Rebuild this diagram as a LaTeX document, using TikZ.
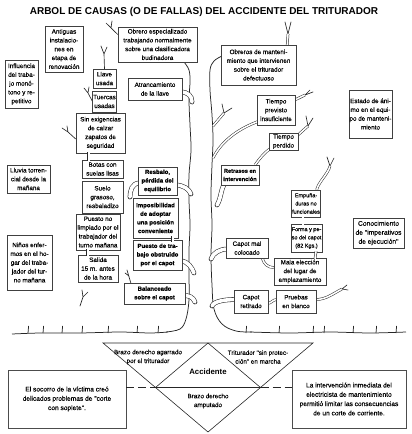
\documentclass[tikz,border=0pt]{standalone}
\usepackage{fontspec}
\setmainfont{Liberation Sans}
\newfontfamily\scanfont[FakeBold=0.25]{Liberation Sans}
\usetikzlibrary{backgrounds,calc}
\newcommand\bxfont{\scanfont\fontsize{6.3}{8.8}\selectfont}
\newcommand\bxbfont{\scanfont\fontsize{6.0}{8.6}\selectfont\bfseries}
\newcommand\bxsfont{\scanfont\fontsize{5.5}{8.2}\selectfont}
\newcommand\bxcfont{\scanfont\fontsize{6.7}{9}\selectfont}
\newcommand\bxlfont{\scanfont\fontsize{6.6}{9.3}\selectfont}
\begin{document}
\begin{tikzpicture}[x=1pt,y=-1pt,
  bx/.style={draw=black!75, line width=0.5pt, fill=white, align=center, inner sep=0.5pt, font=\bxfont, text=black},
  bxb/.style={bx, font=\bxbfont},
  bxs/.style={bx, font=\bxsfont},
  bxc/.style={bx, font=\bxcfont},
  bxl/.style={draw=black!70, line width=0.7pt, fill=white, align=center, inner sep=1pt, font=\bxlfont, text=black},
  tt/.style={align=center, inner sep=0.5pt, font=\bxfont, text=black},
  tube/.style={draw=black!85, double=white, double distance=3.6pt, line width=0.55pt, line cap=round},
  dbl/.style={draw=black!85, double=white, double distance=1.6pt, line width=0.5pt},
  twig/.style={draw=black!85, line width=0.65pt, line cap=round},
  trunk/.style={draw=black!85, line width=0.75pt},
  tri/.style={draw=black!85, line width=0.6pt}]
\useasboundingbox (0,0) rectangle (412,434);

% title
\node[font=\fontsize{10}{12}\selectfont\bfseries, text=black] (ttl) at (204,12) {ARBOL DE CAUSAS (O DE FALLAS) DEL ACCIDENTE DEL TRITURADOR};

% boxes
\node[bx, minimum width=38, minimum height=46] (ant) at (64,49) {Antiguas\\instalacio-\\nes en\\etapa de\\renovación};
\node[bx, minimum width=79, minimum height=35] (obr) at (157.5,44.5) {Obrero especializado\\trabajando normalmente\\sobre una clasificadora\\budinadora};
\node[bx, minimum width=75, minimum height=40] (obm) at (258.5,65) {Obreros de manteni-\\miento que intervienen\\sobre el triturador\\defectuoso};
\node[bx, minimum width=33, minimum height=48] (inf) at (21.5,84) {Influencia\\del traba-\\jo monó-\\tono y re-\\petitivo};
\node[bx, minimum width=23, minimum height=19] (lla) at (104.5,78.5) {Llave\\usada};
\node[bx, minimum width=23, minimum height=21] (tue) at (104.5,101.5) {Tuercas\\usadas};
\node[bx, minimum width=54, minimum height=22] (atr) at (155,89) {Atrancamiento\\de la llave};
\node[bx, minimum width=49, minimum height=40] (sin) at (100.5,133) {Sin exigencias\\de calzar\\zapatos de\\seguridad};
\node[bx, minimum width=43, minimum height=28] (llu) at (28.5,179) {Lluvia torren-\\cial desde la\\mañana};
\node[bx, minimum width=41, minimum height=18] (bot) at (102.5,169) {Botas con\\suelas lisas};
\node[bx, minimum width=41, minimum height=32] (sue) at (102.5,197) {Suelo\\grasoso,\\resbaladizo};
\node[bxb, minimum width=39, minimum height=28] (res) at (157.5,181) {Resbalo,\\pérdida del\\equilibrio};
\node[bxb, minimum width=45, minimum height=40] (imp) at (155.5,218) {Imposibilidad\\de adoptar\\una posición\\conveniente};
\node[bx, minimum width=44, minimum height=36] (pue) at (98,232) {Puesto no\\limpiado por el\\trabajador del\\turno mañana};
\node[bx, minimum width=40, minimum height=27] (sal) at (98,268.5) {Salida\\15 m. antes\\de la hora};
\node[bx, minimum width=45, minimum height=55] (nin) at (29.5,262.5) {Niños enfer-\\mos en el ho-\\gar del traba-\\jador del tur-\\no mañana};
\node[bxb, minimum width=49, minimum height=30] (pdt) at (157.5,255) {Puesto de tra-\\bajo obstruido\\por el capot};
\node[bxb, minimum width=61, minimum height=21] (bal) at (154.5,293.5) {Balanceado\\sobre el capot};
\node[bx, minimum width=38, minimum height=30] (tpi) at (276,110) {Tiempo\\previsto\\insuficiente};
\node[bx, minimum width=29, minimum height=17] (tpe) at (283.5,141.5) {Tiempo\\perdido};
\node[bx, minimum width=43, minimum height=48] (est) at (370.5,114) {Estado de áni-\\mo en el equi-\\po de manteni-\\miento};
\node[bxb, minimum width=38, minimum height=20, font=\scanfont\fontsize{5.6}{8.2}\selectfont\bfseries] (ret) at (240,175) {Retrasos en\\intervención};
\node[bxs, minimum width=28, minimum height=27] (emp) at (306,203.5) {Empuña-\\duras no\\funcionales};
\node[bxs, minimum width=29, minimum height=28] (for) at (306.5,238) {Forma y pe-\\so del capot\\(82 Kgs.)};
\node[bxc, minimum width=51, minimum height=30] (con) at (378.5,233) {Conocimiento\\de "imperativos\\de ejecución"};
\node[bx, minimum width=42, minimum height=20] (cmc) at (247,248) {Capot mal\\colocado};
\node[bx, minimum width=52, minimum height=27] (mal) at (300,271.5) {Mala elección\\del lugar de\\emplazamiento};
\node[bx, minimum width=34, minimum height=23] (cre) at (251,301.5) {Capot\\retirado};
\node[bx, minimum width=40, minimum height=23] (pru) at (296,301.5) {Pruebas\\en blanco};

% small links between stacked boxes
\draw[dbl] ($(sin.south west)+(13,-1)$) -- ($(bot.north west)+(7,1)$);
\draw[dbl] ($(pue.south west)+(12,-1)$) -- ($(sal.north west)+(10,1)$);
\draw[dbl] ($(imp.south west)+(40,-2)$) -- ($(pdt.north west)+(40,2)$);
\draw[dbl] ($(emp.south)+(-3,-1)$) -- ($(for.north)+(-3.5,1)$);
\draw[dbl] ($(for.south east)+(-6,-1)$) -- ($(mal.north)+(15,1)$);

% tree in the background
\begin{pgfonlayer}{background}
\coordinate (tA) at (192,102);
\coordinate (tR) at (191,194);
\coordinate (tP) at (194,273);
\coordinate (tB) at (195,302);
\coordinate (tS) at (130,197);
\coordinate (tRt) at (217,205);
\coordinate (tC) at (211,259);
\coordinate (tCr) at (212,306);
\coordinate (tT) at (213,158);
\coordinate (tW) at (224,113);
\coordinate (eT) at (330,166);
\coordinate (pT) at (342,289);
\coordinate (oT) at (288,34);
\coordinate (iT) at (305,95);
\coordinate (pe) at (308,126);

% trunk
\draw[trunk] plot[smooth, tension=0.6] coordinates {(184,62) (189,70) (190,82) (189,100) (190,125) (191,150) (189,175) (189,200) (190,225) (189,250) (189,275) (189,300) (186,319) (180,329) (166,332)};
\draw[trunk] plot[smooth, tension=0.6] coordinates {(222,56) (214,61) (210,70) (210,90) (212,115) (213,140) (212,165) (211,195) (212,225) (211,255) (212,285) (214,309) (222,324) (236,331) (252,332)};
% ground
\draw[trunk] plot[smooth, tension=0.5] coordinates {(12,334) (40,333) (80,333) (120,332) (150,333) (168,332)};
\draw[trunk] plot[smooth, tension=0.5] coordinates {(250,332) (290,333) (330,332) (370,333) (406,332)};
\foreach \x in {28,43,62,82,108,137,158} \draw[trunk] (\x,333) -- (\x+0.6,326);
\foreach \x in {246,279,313,324,353,376,396} \draw[trunk] (\x,333) -- (\x+0.6,326);

% branch stubs (boxes to trunk)
\draw[tube] ($(atr.east)+(-2,3)$) .. controls +(8,0) and +(0,-6) .. (tA);
\draw[tube] ($(res.east)+(-2,4)$) .. controls +(8,0) and +(-2,-5) .. (tR);
\draw[tube] ($(pdt.east)+(-2,6)$) .. controls +(8,0) and +(-2,-5) .. (tP);
\draw[tube] ($(bal.east)+(-2,2)$) .. controls +(6,0) and +(-2,-5) .. (tB);
\draw[tube] ($(res.west)+(2,2)$) .. controls +(-8,0) and +(0,-6) .. (tS);
\draw[tube] ($(ret.south west)+(4,-2)$) .. controls +(-4,6) and +(4,-6) .. (tRt);
\draw[tube] ($(cmc.west)+(2,1)$) .. controls +(-8,0) and +(2,-6) .. (tC);
\draw[tube] ($(cre.west)+(2,-2)$) .. controls +(-10,0) and +(2,-5) .. (tCr);

% double branches
\draw[dbl] ($(tpi.south west)+(2,-4)$) .. controls (240,128) and (222,140) .. (tT);
\draw[dbl] ($(tpe.south west)+(2,-2)$) .. controls +(-6,4) and +(4,-6) .. ($(ret.north east)+(-4,0)$);
\draw[dbl] ($(mal.west)+(0,-4)$) .. controls +(-6,0) and +(2,6) .. ($(cmc.south east)+(-6,0)$);
\draw[dbl] ($(pru.west)+(1,-2)$) .. controls +(-4,0) and +(4,0) .. ($(cre.east)+(-1,2)$);
\draw[dbl] ($(emp.north east)+(-4,0)$) .. controls +(2,-8) and +(-2,8) .. (eT);
\draw[dbl] ($(pru.east)+(0,-2)$) .. controls +(10,0) and +(-8,4) .. (pT);
\draw[dbl] ($(obm.north east)+(-9,0)$) -- (oT);
\draw[dbl] ($(tpi.north east)+(0,5)$) -- (iT);
\draw[dbl] ($(tpe.north east)+(0,2)$) -- (pe);
\draw[dbl] (213,126) -- (tW);

% twigs
\draw[twig] (eT) -- ++(-3,-9) (eT) -- ++(4,-8);
\draw[twig] (pT) -- ++(5,-4) (pT) -- ++(6,1);
\draw[twig] (oT) -- ++(-3,-12) (oT) -- ++(3,-12);
\draw[twig] (iT) -- ++(5,-5) (iT) -- ++(8,-3);
\draw[twig] (pe) -- ++(-2,-10) (pe) -- ++(5,-8);
\draw[twig] (tW) -- ++(-2,-9) (tW) -- ++(8,-5);
\draw[twig] ($(obr.west)+(0,-10)$) -- (106,23) (111,28) -- (112,21);
\draw[twig] (lla.north) -- (104,54) -- (101,46) (104,54) -- (107,47);
\draw[twig] (tue.west) -- (88,93) -- (84,88) (88,93) -- (89,87);
\draw[twig] ($(sin.west)+(0,6)$) -- (68,132) -- (62,128) (68,132) -- (67,126);
\draw[twig] (80,306) -- (83,297) -- (82,290) (83,297) -- (88,292);
\draw[twig] ($(bal.north west)+(7,0)$) -- (127,270) (129,276) -- (125,273);
\end{pgfonlayer}

% accident triangle
\coordinate (A) at (103,343);
\coordinate (B) at (313,343);
\coordinate (C) at (208,432);
\coordinate (D) at (208,343);
\coordinate (E) at ($(A)!0.5!(C)$);
\coordinate (F) at ($(B)!0.5!(C)$);
\draw[tri] (A) -- (B) -- (C) -- cycle;
\draw[tri] (E) -- (D) -- (F) -- cycle;

\node[bxl, minimum width=118, minimum height=58] (L) at (67,399) {El socorro de la víctima creó\\delicados problemas de "corte\\con soplete".};
\node[bxl, minimum width=114, minimum height=58] (R) at (349,399) {La intervención inmediata del\\electricista de mantenimiento\\permitió limitar las consecuencias\\de un corte de corriente.};
\draw[tri, dash pattern=on 8pt off 4pt] (L.east |- E) -- (E);
\draw[tri, dash pattern=on 8pt off 4pt] (F) -- (R.west |- F);

\node[tt] (t1) at (148,357) {Brazo derecho agarrado\\por el triturador};
\node[tt] (t2) at (258,357) {Triturador "sin protec-\\ción" en marcha};
\node[font=\fontsize{7.8}{9}\selectfont\bfseries, text=black] (acc) at (208,372) {Accidente};
\node[tt] (t3) at (208,401) {Brazo derecho\\amputado};
\end{tikzpicture}
\end{document}
